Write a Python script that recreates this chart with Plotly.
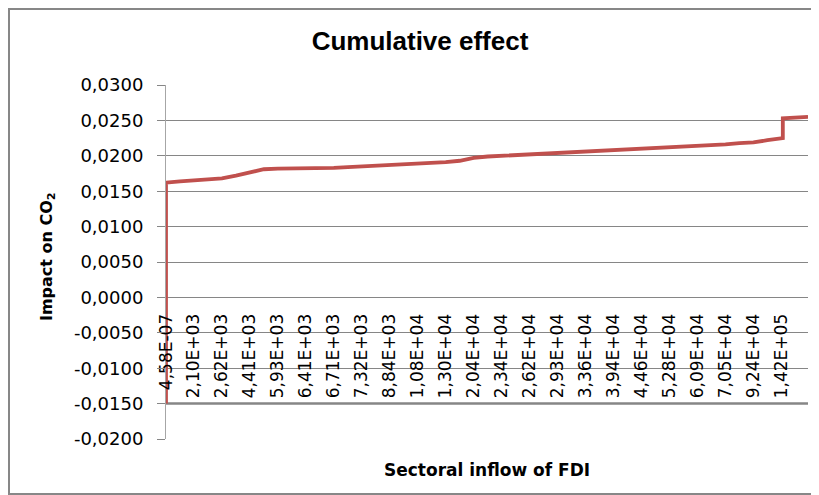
import plotly.graph_objects as go

# category labels shown on the x axis (one every 10 categories in the source)
fdi_labels = ["4,58E-07", "2,10E+03", "2,62E+03", "4,41E+03", "5,93E+03", "6,41E+03",
              "6,71E+03", "7,32E+03", "8,84E+03", "1,08E+04", "1,30E+04", "2,04E+04",
              "2,34E+04", "2,62E+04", "2,93E+04", "3,36E+04", "3,94E+04", "4,46E+04",
              "5,28E+04", "6,09E+04", "7,05E+04", "9,24E+04", "1,42E+05"]

# position along the category axis (in label steps) and impact
pos = [0, 0, 0.5, 1, 1.5, 2, 2.5, 3, 3.5, 4, 4.5, 5, 5.5, 6, 6.5, 7, 7.5, 8, 8.5,
       9, 9.5, 10, 10.5, 11, 11.5, 12, 12.5, 13, 13.5, 14, 14.5, 15, 15.5, 16,
       16.5, 17, 17.5, 18, 18.5, 19, 19.5, 20, 20.5, 21, 21.5, 22, 22.05, 22.05,
       22.5, 22.95]
impact = [-0.0150, 0.0162, 0.0164, 0.0165, 0.01657, 0.0168, 0.0172, 0.0177, 0.0181,
          0.0182, 0.0182, 0.0182, 0.0182, 0.0183, 0.0184, 0.0185, 0.0185, 0.0186,
          0.0187, 0.0188, 0.0190, 0.0191, 0.0193, 0.0197, 0.0199, 0.0200, 0.0201,
          0.0201, 0.0202, 0.0203, 0.0204, 0.0206, 0.0207, 0.0208, 0.0208, 0.0209,
          0.0210, 0.0211, 0.0212, 0.0213, 0.0215, 0.0216, 0.0218, 0.0219, 0.0222,
          0.0224, 0.0225, 0.0253, 0.0254, 0.0255]

y_ticks = [-0.02, -0.015, -0.01, -0.005, 0, 0.005, 0.01, 0.015, 0.02, 0.025, 0.03]
y_labels = ["-0,0200", "-0,0150", "-0,0100", "-0,0050", "0,0000", "0,0050",
            "0,0100", "0,0150", "0,0200", "0,0250", "0,0300"]

GRID = "#868686"
FONT = "DejaVu Sans"

# page body adds an 8px offset; margins below are in figure pixels
ML, MR, MT, MB = 158, 19, 77, 64
PW, PH = 819 - ML - MR, 495 - MT - MB


def px_x(v):  # viewport x pixel -> paper
    return (v - 8 - ML) / PW


def px_y(v):  # viewport y pixel -> paper
    return (495 - MB - (v - 8)) / PH


fig = go.Figure()
fig.add_trace(go.Scatter(x=pos, y=impact, mode="lines",
                         line=dict(color="#C0504D", width=3.8),
                         hoverinfo="skip", showlegend=False))

fig.update_layout(
    width=819, height=495,
    margin=dict(l=ML, r=MR, t=MT, b=MB, autoexpand=False),
    paper_bgcolor="white", plot_bgcolor="white",
    font=dict(family=FONT, size=17, color="black"),
    title=dict(text="<b>Cumulative effect</b>", x=412 / 819, xanchor="center",
               y=1 - 33 / 495, yanchor="middle",
               font=dict(family="Liberation Sans", size=26, color="black")),
    xaxis=dict(range=[0, 22.95], anchor="free", position=0.4,
               tickmode="array", tickvals=list(range(len(fdi_labels))),
               ticktext=fdi_labels, tickangle=-90, ticks="",
               ticklabelstandoff=12, automargin=False,
               showgrid=False, zeroline=False, showline=False,
               tickfont=dict(family=FONT, size=17)),
    yaxis=dict(range=[-0.02, 0.03], tickmode="array", tickvals=y_ticks,
               ticktext=y_labels, automargin=False,
               showgrid=True, gridcolor=GRID, gridwidth=1,
               ticks="outside", ticklen=8, tickcolor=GRID,
               ticklabelstandoff=10,
               showline=True, linecolor="#A6A6A6", linewidth=1,
               zeroline=False, tickfont=dict(family=FONT, size=18)),
)

# horizontal category axis line (thicker)
fig.add_shape(type="line", xref="paper", x0=0, x1=1, yref="y", y0=-0.015, y1=-0.015,
              line=dict(color=GRID, width=2.5), layer="below")

# outer chart border
fig.add_shape(type="rect", xref="paper", yref="paper",
              x0=px_x(9), x1=px_x(817), y0=px_y(494), y1=px_y(9),
              line=dict(color="#878787", width=2))

fig.add_annotation(text="<b>Sectoral inflow of FDI</b>", xref="paper", yref="paper",
                   x=0.5, y=px_y(470), xanchor="center", yanchor="middle",
                   showarrow=False, font=dict(family=FONT, size=17, color="black"))
fig.add_annotation(text="<b>Impact on CO<sub>2</sub></b>", xref="paper", yref="paper",
                   x=px_x(47), y=px_y(257), xanchor="center", yanchor="middle",
                   textangle=-90, showarrow=False,
                   font=dict(family=FONT, size=16, color="black"))

fig.write_html("out.html")
